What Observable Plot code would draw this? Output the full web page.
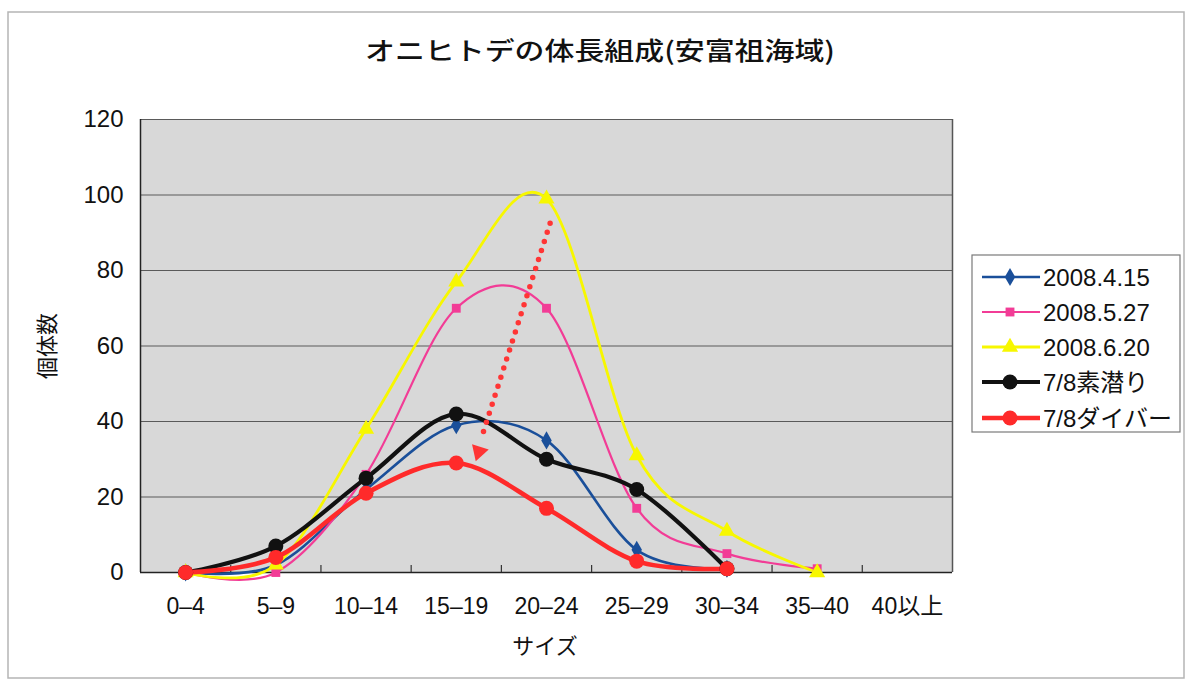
<!DOCTYPE html>
<html>
<head>
<meta charset="utf-8">
<script src="https://cdn.jsdelivr.net/npm/d3@7"></script>
<script src="https://cdn.jsdelivr.net/npm/@observablehq/plot@0.6"></script>
<style>
  body { margin: 0; background: #fff; }
  #chart svg { display: block; }
</style>
</head>
<body>
<div id="chart"></div>
<script>
// Size classes (cm) and y-axis ticks
const sizes = ["0–4", "5–9", "10–14", "15–19", "20–24", "25–29", "30–34", "35–40", "40以上"];
const yTicks = [0, 20, 40, 60, 80, 100, 120];

// Survey series: counts per size class (null = no data)
const seriesNames = ["2008.4.15", "2008.5.27", "2008.6.20", "7/8素潜り", "7/8ダイバー"];
const apr15       = [0, 2, 22, 39, 35, 6, 1, null, null];
const may27       = [0, 0, 26, 70, 70, 17, 5, 1, null];
const jun20       = [0, 2, 38, 77, 99, 31, 11, 0, null];
const jul8Snorkel = [0, 7, 25, 42, 30, 22, 1, null, null];
const jul8Diver   = [0, 4, 21, 29, 17, 3, 1, null, null];

// Shift of the mode: from the June peak down to the July divers' peak
const shiftX = [4.04, 3.27];
const shiftY = [92.5, 35];
const shiftHead = [3.25, 32];

const FONT = "'Liberation Sans', Arial, 'Noto Sans CJK JP', sans-serif";
const JP = "'Noto Sans CJK JP', 'Liberation Sans', sans-serif";

const styles = [
  {color: "#1a4f9a", width: 2.6, symbol: "diamond", r: 5.5},
  {color: "#f23c96", width: 2.2, symbol: "square", r: 5},
  {color: "#f7f700", width: 2.8, symbol: "triangle", r: 6},
  {color: "#111111", width: 4.2, symbol: "circle", r: 7.5},
  {color: "#ff2a2a", width: 4.6, symbol: "circle", r: 7.5}
];

const seriesValues = [apr15, may27, jun20, jul8Snorkel, jul8Diver];
const rows = seriesValues.map((vals, s) =>
  vals.map((v, i) => ({series: seriesNames[s], i, count: v})).filter(d => d.count != null)
);

const W = 1186, H = 681;
const M = {top: 119, right: 234, bottom: 109, left: 140};
const boundaries = d3.range(1, sizes.length).map(k => k - 0.5);

// rotation of the arrow head, from the pixel direction of the shift line
const pxPerX = (W - M.left - M.right) / sizes.length;
const pxPerY = (H - M.top - M.bottom) / 120;
const headAngle = Math.atan2((shiftX[1] - shiftX[0]) * pxPerX, (shiftY[0] - shiftY[1]) * pxPerY) * 180 / Math.PI;
const headRotate = 180 - headAngle;

const marks = [
  Plot.frame({fill: "#d8d8d8", stroke: null}),
  Plot.ruleY(yTicks.slice(1), {stroke: "#5a5a5a", strokeWidth: 1.2}),
  Plot.ruleX([sizes.length - 0.5], {stroke: "#555", strokeWidth: 1.5}),
  Plot.ruleX([-0.5], {stroke: "#222", strokeWidth: 1.5}),
  Plot.ruleY([0], {stroke: "#222", strokeWidth: 1.5}),
  Plot.ruleX(boundaries, {y1: 0, y2: 0, insetTop: -7, stroke: "#333", strokeWidth: 1.2}),
  Plot.axisY(yTicks, {tickSize: 0, tickPadding: 17, fontSize: 24, label: null, fill: "#111"}),
  Plot.axisX(d3.range(sizes.length), {tickSize: 0, tickPadding: 25, fontSize: 23, label: null,
    tickFormat: i => sizes[i], fill: "#111"})
];

rows.forEach((data, s) => {
  const st = styles[s];
  marks.push(Plot.line(data, {x: "i", y: "count", stroke: st.color, strokeWidth: st.width, curve: "cardinal"}));
});
rows.forEach((data, s) => {
  const st = styles[s];
  marks.push(Plot.dot(data, {x: "i", y: "count", symbol: st.symbol, r: st.r, fill: st.color, stroke: null}));
});

marks.push(
  Plot.line(shiftX.map((x, k) => ({x, y: shiftY[k]})), {
    x: "x", y: "y", stroke: "#ff3535", strokeWidth: 5.5, strokeDasharray: "0 9.5", strokeLinecap: "round"
  }),
  Plot.dot([{x: shiftHead[0], y: shiftHead[1]}], {
    x: "x", y: "y", symbol: "triangle", r: 6.5, fill: "#ff3535", stroke: null, rotate: headRotate
  })
);

const chart = Plot.plot({
  width: W, height: H,
  marginTop: M.top, marginRight: M.right, marginBottom: M.bottom, marginLeft: M.left,
  style: {fontFamily: FONT, background: "#fff", overflow: "visible"},
  x: {type: "linear", domain: [-0.5, sizes.length - 0.5], axis: null},
  y: {domain: [0, 120], axis: null},
  marks
});

const svg = d3.select(chart);

// outer chart border
svg.insert("rect", ":first-child")
  .attr("x", 8).attr("y", 12).attr("width", 1176).attr("height", 666)
  .attr("fill", "#fff").attr("stroke", "#b5b5b5").attr("stroke-width", 1.5);

// title
svg.append("text")
  .attr("x", 600).attr("y", 60)
  .attr("text-anchor", "middle")
  .attr("textLength", 470).attr("lengthAdjust", "spacingAndGlyphs")
  .style("font-family", JP).style("font-size", "25px").style("font-weight", 500).attr("fill", "#111")
  .text("オニヒトデの体長組成(安富祖海域)");

// axis titles
svg.append("text")
  .attr("x", 545).attr("y", 654)
  .attr("text-anchor", "middle")
  .style("font-family", JP).style("font-size", "22px").attr("fill", "#111")
  .text("サイズ");
svg.append("text")
  .attr("transform", "translate(55,346) rotate(-90)")
  .attr("text-anchor", "middle")
  .style("font-family", JP).style("font-size", "22px").attr("fill", "#111")
  .text("個体数");

// legend
const lg = svg.append("g");
lg.append("rect")
  .attr("x", 972).attr("y", 255).attr("width", 208).attr("height", 177)
  .attr("fill", "#fff").attr("stroke", "#7a7a7a").attr("stroke-width", 1.2);
const symbolTypes = {diamond: d3.symbolDiamond, square: d3.symbolSquare, triangle: d3.symbolTriangle, circle: d3.symbolCircle};
const legendY = [277, 312, 347, 382, 418];
seriesNames.forEach((name, s) => {
  const st = styles[s], y = legendY[s];
  lg.append("line").attr("x1", 982).attr("x2", 1040).attr("y1", y).attr("y2", y)
    .attr("stroke", st.color).attr("stroke-width", st.width);
  lg.append("path")
    .attr("transform", `translate(1010,${y})`)
    .attr("d", d3.symbol(symbolTypes[st.symbol], Math.PI * st.r * st.r)())
    .attr("fill", st.color);
  lg.append("text")
    .attr("x", 1043).attr("y", y).attr("dy", "0.36em")
    .attr("text-anchor", "start")
    .style("font-family", FONT).style("font-size", "24px").attr("fill", "#111")
    .text(name);
});

document.getElementById("chart").appendChild(chart);
</script>
</body>
</html>
